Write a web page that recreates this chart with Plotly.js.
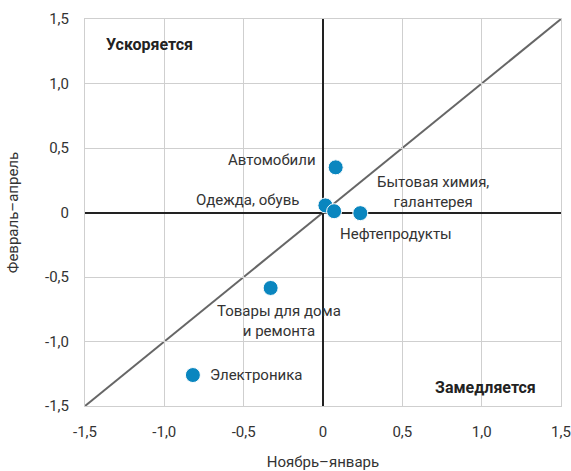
<!DOCTYPE html>
<html>
<head>
<meta charset="utf-8">
<script src="https://cdn.plot.ly/plotly-3.0.1.min.js"></script>
<style>html,body{margin:0;padding:0;background:#fff;}#chart{width:571px;height:471px;}</style>
</head>
<body>
<div id="chart"></div>
<script>
var categories = ["Автомобили", "Одежда, обувь", "Бытовая химия,<br>галантерея", "Нефтепродукты", "Товары для дома<br>и ремонта", "Электроника"];
var novJan = [0.08, 0.015, 0.07, 0.235, -0.33, -0.82];
var febApr = [0.35, 0.055, 0.01, -0.005, -0.585, -1.26];
var tickVals = [-1.5, -1.0, -0.5, 0, 0.5, 1.0, 1.5];
var tickText = ["-1,5", "-1,0", "-0,5", "0", "0,5", "1,0", "1,5"];

var labelStyle = [
  {xanchor: "right", xshift: -18, yshift: 7},
  {xanchor: "right", xshift: -24, yshift: 5},
  {xanchor: "center", xshift: 99, yshift: 19},
  {xanchor: "center", xshift: 36, yshift: -21},
  {xanchor: "center", xshift: 8, yshift: -33},
  {xanchor: "left", xshift: 15, yshift: 0}
];

var FONT = "Roboto, 'Open Sans', sans-serif";
var annotations = categories.map(function (c, i) {
  return {
    x: novJan[i], y: febApr[i], xref: "x", yref: "y",
    text: c, showarrow: false,
    xanchor: labelStyle[i].xanchor, yanchor: "middle",
    xshift: labelStyle[i].xshift, yshift: labelStyle[i].yshift,
    align: "center",
    font: {family: FONT, size: 15, color: "#333"}
  };
});
annotations.push({x: -1.38, y: 1.3, xref: "x", yref: "y", text: "<b>Ускоряется</b>", showarrow: false, xanchor: "left", yanchor: "middle", font: {family: FONT, size: 16, color: "#222"}});
annotations.push({x: 1.355, y: -1.355, xref: "x", yref: "y", text: "<b>Замедляется</b>", showarrow: false, xanchor: "right", yanchor: "middle", font: {family: FONT, size: 16, color: "#222"}});

var trace = {
  x: novJan, y: febApr, type: "scatter", mode: "markers",
  marker: {size: 15, color: "#0A86BF", line: {color: "#fff", width: 1}},
  hoverinfo: "skip"
};

var axisCommon = {
  range: [-1.5, 1.5], tickvals: tickVals, ticktext: tickText,
  showgrid: true, gridcolor: "#cfcfcf", gridwidth: 1,
  zeroline: true, zerolinecolor: "#222", zerolinewidth: 2,
  showline: true, mirror: true, linecolor: "#cfcfcf", linewidth: 1,
  ticks: "", tickfont: {family: FONT, size: 15, color: "#333"},
  fixedrange: true
};

var layout = {
  width: 571, height: 471,
  margin: {l: 85, r: 10, t: 19, b: 65},
  paper_bgcolor: "#fff", plot_bgcolor: "#fff",
  showlegend: false,
  xaxis: Object.assign({}, axisCommon, {ticklabelstandoff: 12, title: {text: "Ноябрь–январь", font: {family: FONT, size: 15, color: "#333"}, standoff: 20}}),
  yaxis: Object.assign({}, axisCommon, {ticklabelstandoff: 12, title: {text: "Февраль–апрель", font: {family: FONT, size: 15, color: "#333"}, standoff: 22}}),
  shapes: [{type: "line", xref: "x", yref: "y", x0: -1.5, y0: -1.5, x1: 1.5, y1: 1.5, line: {color: "#666", width: 2}, layer: "below"}],
  annotations: annotations
};

Plotly.newPlot("chart", [trace], layout, {displayModeBar: false, staticPlot: true});
</script>
</body>
</html>
